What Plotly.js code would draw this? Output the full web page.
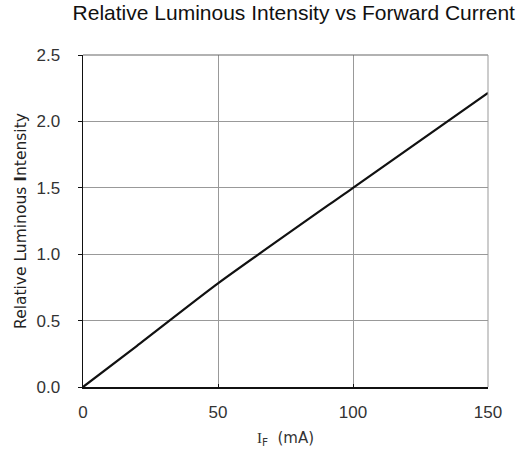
<!DOCTYPE html>
<html>
<head>
<meta charset="utf-8">
<script src="https://cdn.plot.ly/plotly-3.0.1.min.js"></script>
<style>html,body{margin:0;padding:0;background:#fff;}#chart{width:519px;height:460px;}</style>
</head>
<body>
<div id="chart"></div>
<script>
const currentMA = [0, 20, 50, 100, 150];
const relIntensity = [0, 0.31, 0.78, 1.50, 2.215];
const xTicks = [0, 50, 100, 150];
const yTicks = [0.0, 0.5, 1.0, 1.5, 2.0, 2.5];
const yTickText = ["0.0", "0.5", "1.0", "1.5", "2.0", "2.5"];

const tickFont = {family: "Liberation Sans Narrow, Liberation Sans, Arial, sans-serif", size: 17, color: "#333"};

Plotly.newPlot("chart", [{
  x: currentMA, y: relIntensity, type: "scatter", mode: "lines",
  line: {color: "#111", width: 2.2, shape: "spline", smoothing: 0.6}, hoverinfo: "skip"
}], {
  width: 519, height: 460,
  margin: {l: 83, r: 31, t: 55, b: 73},
  paper_bgcolor: "#fff", plot_bgcolor: "#fff",
  showlegend: false,
  title: {text: "Relative Luminous Intensity vs Forward Current", x: 0.566, xanchor: "center", y: 0.988, yanchor: "top",
          font: {family: "Liberation Sans, Arial, sans-serif", size: 21, color: "#111"}},
  shapes: [
    {type: "line", xref: "paper", yref: "paper", x0: 0, x1: 1, y0: 1, y1: 1, line: {color: "#666", width: 1.2}},
    {type: "line", xref: "paper", yref: "paper", x0: 1, x1: 1, y0: 0, y1: 1, line: {color: "#999", width: 1}}
  ],
  xaxis: {
    range: [0, 150], tickvals: xTicks, ticktext: xTicks.map(String),
    showgrid: true, gridcolor: "#999", gridwidth: 1,
    showline: true, linecolor: "#111", linewidth: 1.5,
    ticks: "inside", ticklen: 3, tickcolor: "#111",
    ticklabelstandoff: 9,
    tickfont: tickFont, zeroline: false, fixedrange: true,
    title: {text: "<span style=\"font-family:Liberation Serif\">I</span><sub>F</sub>  (mA)", standoff: 11,
            font: {family: "DejaVu Sans, sans-serif", size: 15, color: "#333"}}
  },
  yaxis: {
    range: [0, 2.5], tickvals: yTicks, ticktext: yTickText,
    showgrid: true, gridcolor: "#999", gridwidth: 1,
    showline: true, linecolor: "#111", linewidth: 1.5,
    ticks: "outside", ticklen: 4, tickcolor: "#111",
    ticklabelstandoff: 14,
    tickfont: tickFont, zeroline: false, fixedrange: true,
    title: {text: "Relative Luminous <b>I</b>ntensity", standoff: 6,
            font: {family: "DejaVu Sans, sans-serif", size: 15.5, color: "#222"}}
  }
}, {displayModeBar: false, staticPlot: true});
</script>
</body>
</html>
